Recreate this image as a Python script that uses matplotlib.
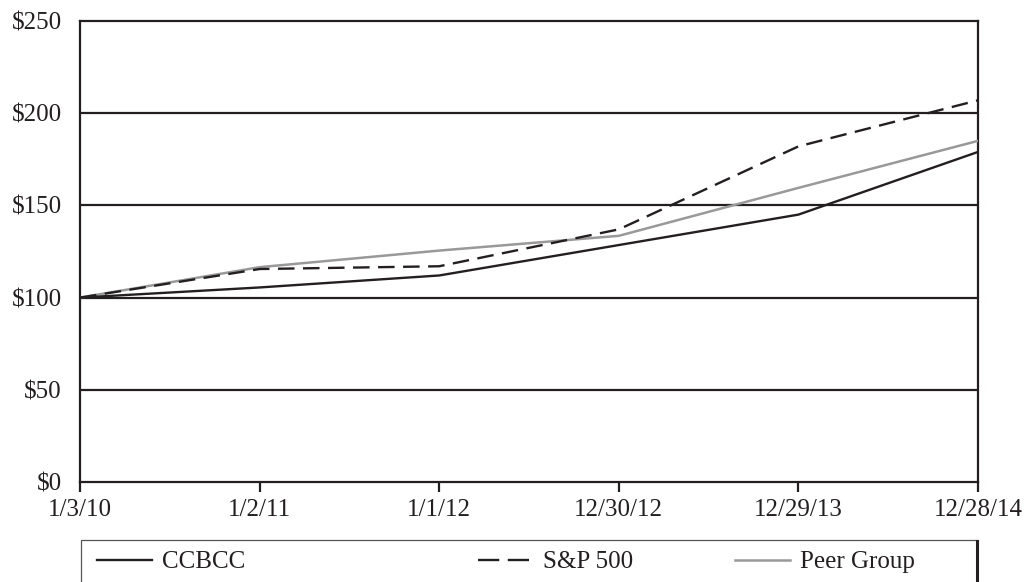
import matplotlib
matplotlib.use("Agg")
import matplotlib.pyplot as plt
from matplotlib.patches import Rectangle
from matplotlib.lines import Line2D

dates = ["1/3/10", "1/2/11", "1/1/12", "12/30/12", "12/29/13", "12/28/14"]
ccbcc = [100, 105.5, 112, 128.5, 145, 179]
sp500 = [100, 115.5, 117, 137, 182, 207]
peer = [100, 116.5, 125.5, 133.5, 159.5, 185]
yticks = [0, 50, 100, 150, 200, 250]
ylabels = ["$0", "$50", "$100", "$150", "$200", "$250"]

plt.rcParams['font.family'] = ['Liberation Serif', 'DejaVu Serif']
W, H = 1029, 582
fs = 18
fig = plt.figure(figsize=(W/100, H/100), dpi=100)
ax = fig.add_axes([80/W, (H-482)/H, (978-80)/W, (482-21)/H])

x = list(range(len(dates)))
ink = "#231f20"
for yv in yticks[1:-1]:
    ax.axhline(yv, color=ink, lw=1.6, zorder=1)
ax.plot(x, peer, color="#999999", lw=1.8, zorder=3, label="Peer Group")
ax.plot(x, sp500, color=ink, lw=1.7, dashes=(7, 3.6), zorder=4, label="S&P 500")
ax.plot(x, ccbcc, color=ink, lw=1.7, zorder=5, label="CCBCC")

ax.set_xlim(0, 5)
ax.set_ylim(0, 250)
ax.set_xticks(x)
ax.set_xticklabels(dates)
ax.set_yticks(yticks)
ax.set_yticklabels(ylabels)
ax.tick_params(axis='x', direction='out', length=7.5, width=1.6, color=ink, pad=5, labelsize=fs, labelcolor=ink)
ax.tick_params(axis='y', length=0, pad=13, labelsize=fs, labelcolor=ink)
for s in ax.spines.values():
    s.set_color(ink)
    s.set_linewidth(1.6)

# legend box
fig.add_artist(Rectangle((81/W, -0.05), (977-81)/W, (0.05 + (H-540)/H), transform=fig.transFigure,
                         fill=False, edgecolor="#555555", lw=0.9))
fig.add_artist(Line2D([977/W, 977/W], [0, (H-541)/H], transform=fig.transFigure, color=ink, lw=2.2))

handles = {
    "CCBCC": Line2D([], [], color=ink, lw=1.7),
    "S&P 500": Line2D([], [], color=ink, lw=1.7, dashes=(9, 3.6)),
    "Peer Group": Line2D([], [], color="#999999", lw=1.8),
}
positions = [("CCBCC", 97), ("S&P 500", 478), ("Peer Group", 735)]
for name, px in positions:
    leg = fig.legend([handles[name]], [name], loc='center left',
                     bbox_to_anchor=(px/W, (H-562)/H), frameon=False,
                     fontsize=fs, handlelength=2.2, handletextpad=0.4, borderpad=0, borderaxespad=0)
    for t in leg.get_texts():
        t.set_color(ink)

fig.savefig("out.png", dpi=100)
